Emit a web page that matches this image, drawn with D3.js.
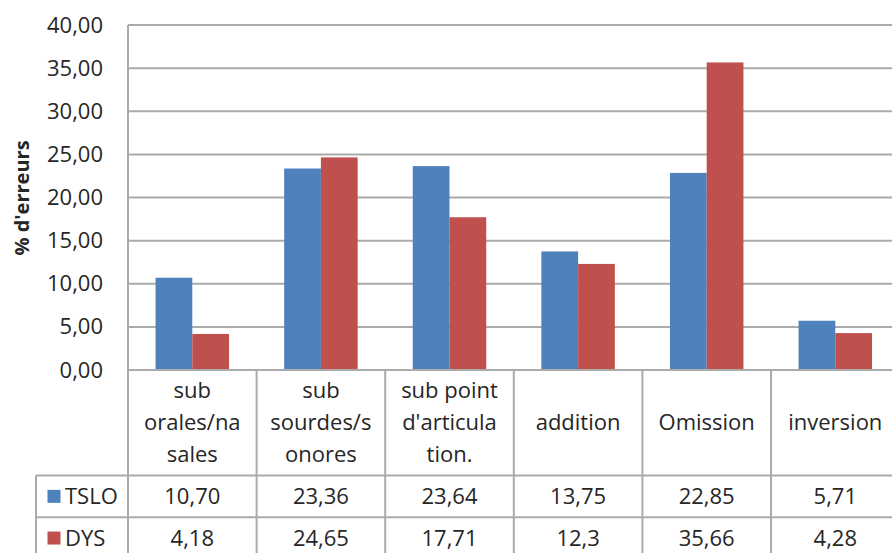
<!DOCTYPE html>
<html>
<head>
<meta charset="utf-8">
<script src="https://cdn.jsdelivr.net/npm/d3@7"></script>
<style>
  html, body { margin: 0; padding: 0; background: #fff; }
  svg { display: block; }
  text { font-family: "Open Sans", "DejaVu Sans", sans-serif; fill: #262626; }
</style>
</head>
<body>
<svg id="chart" width="892" height="553"></svg>
<script>
// Error categories, each split into the lines shown in the data-table header
const categories = [
  ["sub", "orales/na", "sales"],
  ["sub", "sourdes/s", "onores"],
  ["sub point", "d'articula", "tion."],
  ["addition"],
  ["Omission"],
  ["inversion"]
];
const seriesNames = ["TSLO", "DYS"];
const tsloValues = [10.70, 23.36, 23.64, 13.75, 22.85, 5.71];
const dysValues  = [4.18, 24.65, 17.71, 12.3, 35.66, 4.28];
const yTicks = [0, 5, 10, 15, 20, 25, 30, 35, 40];
const yTitle = "% d'erreurs";

const colors = { TSLO: "#4f81bd", DYS: "#c0504d" };
const gridColor = "#ababab";

// French number formatting (decimal comma)
const fr = d3.formatLocale({ decimal: ",", thousands: " ", grouping: [3], currency: ["", " €"] });
const fmtFixed = fr.format(".2f");
const fmtGeneral = v => String(v).replace(".", ",");
const cellFormat = { TSLO: fmtFixed, DYS: fmtGeneral };

const series = [
  { name: "TSLO", values: tsloValues },
  { name: "DYS", values: dysValues }
];

// Layout
const plotLeft = 128, plotTop = 25, baseY = 370;
const colW = 128.6;
const plotRight = plotLeft + categories.length * colW;
const headerBottom = 475.5;
const rowH = 41.7;
const legendLeft = 36;
const fontSize = 22;

const svg = d3.select("#chart");

const x = d3.scaleBand()
  .domain(d3.range(categories.length))
  .range([plotLeft, plotRight])
  .paddingInner(0).paddingOuter(0);

// Excel-style 150% gap: bars occupy 2/(2+1.5) of each band
const groupW = x.bandwidth() * (2 / 3.5);
const xs = d3.scaleBand()
  .domain(seriesNames)
  .range([0, groupW]);

const y = d3.scaleLinear().domain([0, 40]).range([baseY, plotTop]);

// Horizontal gridlines
svg.append("g")
  .selectAll("line")
  .data(yTicks)
  .join("line")
  .attr("x1", plotLeft).attr("x2", plotRight)
  .attr("y1", d => y(d)).attr("y2", d => y(d))
  .attr("stroke", gridColor).attr("stroke-width", 2);

// Y axis labels
const yAxis = d3.axisLeft(y).tickValues(yTicks).tickFormat(fmtFixed).tickSize(0).tickPadding(25);
const yg = svg.append("g").attr("transform", `translate(${plotLeft},0)`).call(yAxis);
yg.select(".domain").remove();
yg.selectAll("text")
  .attr("font-size", fontSize)
  .attr("font-family", null)
  .attr("fill", null);

// Y axis title
svg.append("text")
  .attr("transform", `translate(29,198) rotate(-90)`)
  .attr("text-anchor", "middle")
  .attr("font-size", 20)
  .attr("font-weight", "bold")
  .text(yTitle);

// Bars
const groups = svg.append("g")
  .selectAll("g")
  .data(series)
  .join("g")
  .attr("fill", d => colors[d.name]);

groups.selectAll("rect")
  .data(s => s.values.map((v, i) => ({ name: s.name, v, i })))
  .join("rect")
  .attr("x", d => x(d.i) + (x.bandwidth() - groupW) / 2 + xs(d.name))
  .attr("width", xs.bandwidth())
  .attr("y", d => y(d.v))
  .attr("height", d => y(0) - y(d.v));

// Data table
const tbl = svg.append("g").attr("stroke", gridColor).attr("stroke-width", 2);
// plot-area left border, continued through the table
tbl.append("line").attr("x1", plotLeft).attr("x2", plotLeft).attr("y1", plotTop).attr("y2", 553);
// category column dividers
tbl.selectAll("line.div")
  .data(d3.range(1, categories.length + 1))
  .join("line").attr("class", "div")
  .attr("x1", i => plotLeft + i * colW).attr("x2", i => plotLeft + i * colW)
  .attr("y1", baseY).attr("y2", 553);
// row separators
const rowLines = [headerBottom, headerBottom + rowH, headerBottom + 2 * rowH];
tbl.selectAll("line.row")
  .data(rowLines)
  .join("line").attr("class", "row")
  .attr("x1", legendLeft).attr("x2", plotRight)
  .attr("y1", d => d).attr("y2", d => d);
// legend column left border
tbl.append("line").attr("x1", legendLeft).attr("x2", legendLeft).attr("y1", headerBottom).attr("y2", 553);
// baseline
tbl.append("line").attr("x1", plotLeft).attr("x2", plotRight).attr("y1", baseY).attr("y2", baseY);

// Header labels
const headerMid = (baseY + headerBottom) / 2;
const lineH = 32;
svg.append("g")
  .selectAll("text")
  .data(categories)
  .join("text")
  .attr("text-anchor", "middle")
  .attr("font-size", fontSize)
  .attr("x", (d, i) => x(i) + x.bandwidth() / 2)
  .attr("y", d => headerMid - (d.length - 1) * lineH / 2)
  .selectAll("tspan")
  .data(d => d)
  .join("tspan")
  .attr("x", function () { return this.parentNode.getAttribute("x"); })
  .attr("dy", (d, i) => i === 0 ? "0.35em" : lineH)
  .text(d => d);

// Table rows: legend key + values
series.forEach((s, r) => {
  const cy = headerBottom + rowH * r + rowH / 2;
  svg.append("rect")
    .attr("x", 47.5).attr("y", cy - 6.5)
    .attr("width", 13).attr("height", 13)
    .attr("fill", colors[s.name]);
  svg.append("text")
    .attr("x", 65).attr("y", cy).attr("dy", "0.35em")
    .attr("font-size", fontSize)
    .text(s.name);
  svg.append("g").selectAll("text")
    .data(s.values)
    .join("text")
    .attr("text-anchor", "middle")
    .attr("font-size", fontSize)
    .attr("x", (v, i) => x(i) + x.bandwidth() / 2)
    .attr("y", cy).attr("dy", "0.35em")
    .text(v => cellFormat[s.name](v));
});
</script>
</body>
</html>
